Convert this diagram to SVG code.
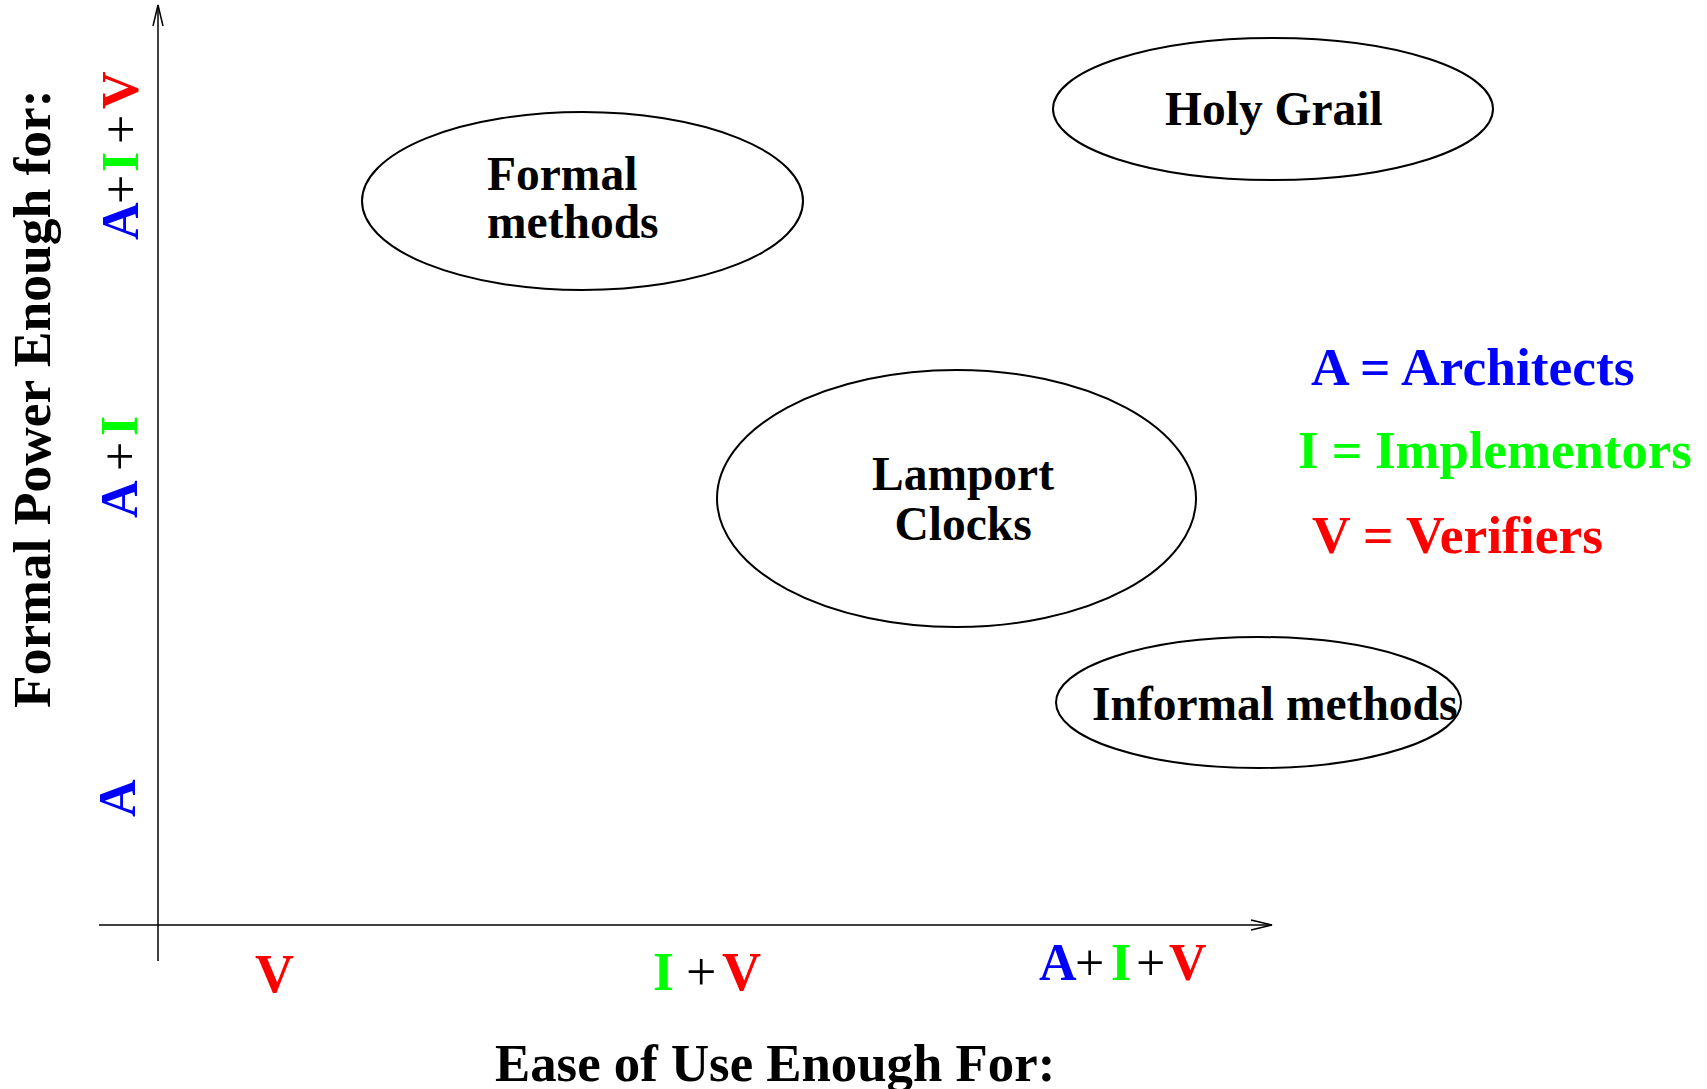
<svg xmlns="http://www.w3.org/2000/svg" width="1707" height="1089" viewBox="0 0 1707 1089">
<style>
text{font-family:"Liberation Serif","Times New Roman",serif;font-weight:bold;}
.t{font-size:52px;}
.lg{font-size:53.5px;}
.bt{font-size:54px;}
.n{font-size:47.5px;fill:#000;}
.pl{font-weight:normal;fill:#000;}
.b{fill:#0000ff;}
.g{fill:#00ff00;}
.r{fill:#ff0000;}
.ax{stroke:#000;stroke-width:1.5;fill:none;}
.el{stroke:#000;stroke-width:2;fill:none;}
</style>
<rect width="1707" height="1089" fill="#fff"/>
<g id="connectors">
<line class="ax" x1="158" y1="961" x2="158" y2="5"/>
<polyline class="ax" points="153,26 158,5 163,26"/>
<line class="ax" x1="99" y1="925" x2="1272" y2="925"/>
<polyline class="ax" points="1251,920 1272,925 1251,930"/>
</g>
<g id="y-axis-label">
<text class="t" style="font-size:53.5px" transform="translate(50,708) rotate(-90)">Formal Power Enough for:</text>
</g>
<g id="x-axis-label">
<text class="t" style="font-size:52.8px" x="495" y="1081">Ease of Use Enough For:</text>
</g>
<g id="y-ticks">
<g transform="translate(138,240) rotate(-90)">
<text class="t"><tspan class="b" x="0">A</tspan><tspan class="pl" x="36">+</tspan><tspan class="g" x="68">I</tspan><tspan class="pl" x="96">+</tspan><tspan class="r" x="131">V</tspan></text>
</g>
<g transform="translate(137,518) rotate(-90)">
<text class="t"><tspan class="b" x="0">A</tspan><tspan class="pl" x="47">+</tspan><tspan class="g" x="82">I</tspan></text>
</g>
<g transform="translate(135,817) rotate(-90)">
<text class="t b">A</text>
</g>
</g>
<g id="x-ticks">
<text class="bt r" x="255" y="992">V</text>
<text class="bt" y="990"><tspan class="g" x="653">I</tspan><tspan class="pl" x="686">+</tspan><tspan class="r" x="722">V</tspan></text>
<text class="t" y="980"><tspan class="b" x="1039">A</tspan><tspan class="pl" x="1075">+</tspan><tspan class="g" x="1111">I</tspan><tspan class="pl" x="1136">+</tspan><tspan class="r" x="1169">V</tspan></text>
</g>
<g id="legend">
<text class="lg b" x="1311" y="385">A = Architects</text>
<text class="lg g" style="font-size:52.8px" x="1298" y="468">I = Implementors</text>
<text class="lg r" x="1312" y="553">V = Verifiers</text>
</g>
<g id="formal-methods">
<ellipse class="el" cx="582.5" cy="201" rx="220.5" ry="89"/>
<text class="n" x="487" y="190">Formal</text>
<text class="n" x="487" y="238">methods</text>
</g>
<g id="holy-grail">
<ellipse class="el" cx="1273" cy="109" rx="220" ry="71"/>
<text class="n" x="1165" y="125">Holy Grail</text>
</g>
<g id="lamport-clocks">
<ellipse class="el" cx="956.5" cy="498.5" rx="239.5" ry="128.5"/>
<text class="n" x="963" y="490" text-anchor="middle">Lamport</text>
<text class="n" x="963" y="540" text-anchor="middle">Clocks</text>
</g>
<g id="informal-methods">
<ellipse class="el" cx="1258.5" cy="702.5" rx="202.5" ry="65.5"/>
<text class="n" x="1092" y="720">Informal methods</text>
</g>
</svg>
